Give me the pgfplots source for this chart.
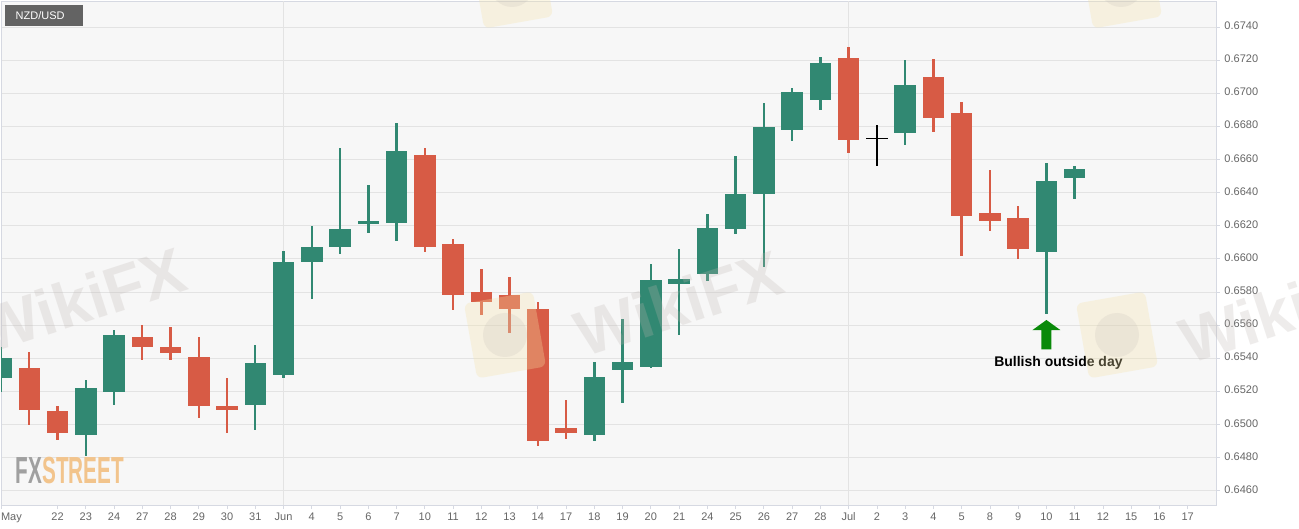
\documentclass[border=0pt]{standalone}
\usepackage{fontspec}
\setmainfont{Liberation Sans}
\usepackage{pgfplots}
\pgfplotsset{compat=1.18}
\usepackage{pgfplotstable}
\usetikzlibrary{calc}
\definecolor{bull}{HTML}{318872}
\definecolor{bear}{HTML}{D75B45}
\definecolor{plotbg}{HTML}{F7F7F7}
\definecolor{gridcol}{HTML}{E3E3E3}
\definecolor{bordercol}{HTML}{D6D9E2}
\definecolor{labcol}{HTML}{666666}
\definecolor{arrowgreen}{HTML}{0A8A0A}
\definecolor{boxgray}{HTML}{636363}
\definecolor{fxgray}{HTML}{A0A0A0}
\definecolor{fxorange}{HTML}{F2C48C}
\definecolor{wmgray}{HTML}{BDB4B0}
\definecolor{wmyellow}{HTML}{F5E3A8}

\pgfplotstableread{
x O H L C
-1 0.6528 0.6547 0.6520 0.6540
2 0.6494 0.6527 0.6481 0.6522
3 0.6520 0.6557 0.6512 0.6554
8 0.6512 0.6548 0.6497 0.6537
9 0.6530 0.6605 0.6528 0.6598
10 0.6598 0.6620 0.6576 0.6607
11 0.6607 0.6667 0.6603 0.6618
12 0.6621 0.6645 0.6616 0.6623
13 0.6622 0.6682 0.6611 0.6665
20 0.6494 0.6538 0.6490 0.6529
21 0.6533 0.6564 0.6513 0.6538
22 0.6535 0.6597 0.6534 0.6587
23 0.6585 0.6606 0.6554 0.6588
24 0.6591 0.6627 0.6587 0.6619
25 0.6618 0.6662 0.6615 0.6639
26 0.6639 0.6694 0.6595 0.6680
27 0.6678 0.6703 0.6671 0.6701
28 0.6696 0.6722 0.6690 0.6718
31 0.6676 0.6720 0.6669 0.6705
36 0.6604 0.6658 0.6567 0.6647
37 0.6649 0.6656 0.6636 0.6654
}\bulltab

\pgfplotstableread{
x O H L C
0 0.6534 0.6544 0.6500 0.6509
1 0.6508 0.6511 0.6491 0.6495
4 0.6553 0.6560 0.6539 0.6547
5 0.6547 0.6559 0.6539 0.6543
6 0.6541 0.6553 0.6504 0.6511
7 0.6511 0.6528 0.6495 0.6509
14 0.6663 0.6667 0.6604 0.6607
15 0.6609 0.6612 0.6569 0.6578
16 0.6580 0.6594 0.6566 0.6574
17 0.6578 0.6589 0.6555 0.6570
18 0.6570 0.6574 0.6487 0.6490
19 0.6498 0.6515 0.6491 0.6495
29 0.6721 0.6728 0.6664 0.6672
32 0.6710 0.6721 0.6677 0.6685
33 0.6688 0.6695 0.6602 0.6626
34 0.6628 0.6654 0.6617 0.6623
35 0.6625 0.6632 0.6600 0.6606
}\beartab

\pgfplotstableread{
x O H L C
30 0.66732 0.6681 0.6656 0.66724
}\dojitab

\begin{document}
\begin{tikzpicture}
\fill[white] (0,0) rectangle (1299pt,528pt);
\useasboundingbox (0,0) rectangle (1299pt,528pt);
\begin{axis}[
  at={(1pt,23pt)}, anchor=south west,
  width=1215pt, height=504pt, scale only axis,
  xmin=-1, xmax=42, ymin=0.64514, ymax=0.67557,
  axis background/.style={fill=plotbg},
  axis line style={draw=bordercol, line width=0.8pt},
  ytick={0.6460,0.6480,0.6500,0.6520,0.6540,0.6560,0.6580,0.6600,0.6620,0.6640,0.6660,0.6680,0.6700,0.6720,0.6740},
  yticklabel pos=right, ytick pos=right,
  xtick pos=left,
  tick align=outside,
  major tick length=4pt,
  tick style={draw=bordercol, line width=0.8pt},
  ymajorgrids, grid style={draw=gridcol, line width=0.8pt},
  yticklabel style={font=\fontsize{11}{13}\selectfont, text=labcol, xshift=1pt,
    /pgf/number format/.cd, fixed, fixed zerofill, precision=4, assume math mode=true},
  xtick={-1,1,2,...,41},
  xticklabels={\makebox[0pt][l]{May},22,23,24,27,28,29,30,31,Jun,4,5,6,7,10,11,12,13,14,17,18,19,20,21,24,25,26,27,28,Jul,2,3,4,5,8,9,10,11,12,15,16,17},
  xticklabel style={font=\fontsize{11}{13}\selectfont, text=labcol, yshift=1pt},
  typeset ticklabels with strut,
  extra x ticks={9,29}, extra x tick labels={},
  extra x tick style={grid=major, major tick length=0pt},
]
% wicks
\addplot[draw=none, mark=none, forget plot,
  error bars/.cd, y dir=both, y explicit, error mark=none,
  error bar style={draw=bull, line width=2.4pt}]
  table[x=x, y expr=(\thisrow{H}+\thisrow{L})/2, y error expr=(\thisrow{H}-\thisrow{L})/2] {\bulltab};
\addplot[draw=none, mark=none, forget plot,
  error bars/.cd, y dir=both, y explicit, error mark=none,
  error bar style={draw=bear, line width=2.4pt}]
  table[x=x, y expr=(\thisrow{H}+\thisrow{L})/2, y error expr=(\thisrow{H}-\thisrow{L})/2] {\beartab};
\addplot[draw=none, mark=none, forget plot,
  error bars/.cd, y dir=both, y explicit, error mark=none,
  error bar style={draw=black, line width=2.6pt}]
  table[x=x, y expr=(\thisrow{H}+\thisrow{L})/2, y error expr=(\thisrow{H}-\thisrow{L})/2] {\dojitab};
% bodies
\addplot[draw=none, mark=none, forget plot,
  error bars/.cd, y dir=both, y explicit, error mark=none,
  error bar style={draw=bull, line width=21.5pt}]
  table[x=x, y expr=(\thisrow{O}+\thisrow{C})/2, y error expr=abs(\thisrow{C}-\thisrow{O})/2] {\bulltab};
\addplot[draw=none, mark=none, forget plot,
  error bars/.cd, y dir=both, y explicit, error mark=none,
  error bar style={draw=bear, line width=21.5pt}]
  table[x=x, y expr=(\thisrow{O}+\thisrow{C})/2, y error expr=abs(\thisrow{C}-\thisrow{O})/2] {\beartab};
\addplot[draw=none, mark=none, forget plot,
  error bars/.cd, y dir=both, y explicit, error mark=none,
  error bar style={draw=black, line width=22pt}]
  table[x=x, y expr=(\thisrow{O}+\thisrow{C})/2, y error expr=abs(\thisrow{C}-\thisrow{O})/2] {\dojitab};
% annotation arrow
\fill[arrowgreen] ([xshift=-14pt]axis cs:36,0.6557) -- (axis cs:36,0.65631) -- ([xshift=14pt]axis cs:36,0.6557)
  -- ([xshift=5pt]axis cs:36,0.6557) -- ([xshift=5pt]axis cs:36,0.65454) -- ([xshift=-5pt]axis cs:36,0.65454)
  -- ([xshift=-5pt]axis cs:36,0.6557) -- cycle;
\node[font=\bfseries\fontsize{14}{16}\selectfont, text=black] at ([xshift=12pt]axis cs:36,0.65373) {Bullish outside day};
\end{axis}
% watermarks
\begin{scope}
\clip (0,0) rectangle (1299pt,528pt);
\foreach \cx/\cy in {505/193, 1117/193, 512/543, 1121/543} {
  \fill[wmyellow, opacity=0.3, rounded corners=6pt, rotate around={10:(\cx pt,\cy pt)}] (\cx pt-35pt,\cy pt-38pt) rectangle (\cx pt+35pt,\cy pt+38pt);
  \fill[wmgray, opacity=0.18] (\cx pt,\cy pt) circle (22pt);
}
\node[rotate=18, text=wmgray, opacity=0.25, font=\bfseries\fontsize{64}{70}\selectfont] at (82pt,228pt) {WikiFX};
\node[rotate=18, text=wmgray, opacity=0.25, font=\bfseries\fontsize{64}{70}\selectfont] at (679pt,225pt) {WikiFX};
\node[rotate=18, text=wmgray, opacity=0.25, font=\bfseries\fontsize{64}{70}\selectfont] at (1284pt,218pt) {WikiFX};
\end{scope}
% label box
\fill[boxgray] (5pt,523pt) rectangle (83pt,502pt);
\node[anchor=west, inner sep=0pt, text=white, font=\fontsize{11}{13}\selectfont] at (15.5pt,512.5pt) {NZD/USD};
% FXSTREET logo
\node[anchor=base west, inner sep=0pt] at (15.5pt,45pt) {\scalebox{0.55}[1]{\fontsize{37.7}{40}\selectfont\bfseries\textcolor{fxgray}{FX}\textcolor{fxorange}{STREET}}};
\end{tikzpicture}
\end{document}
